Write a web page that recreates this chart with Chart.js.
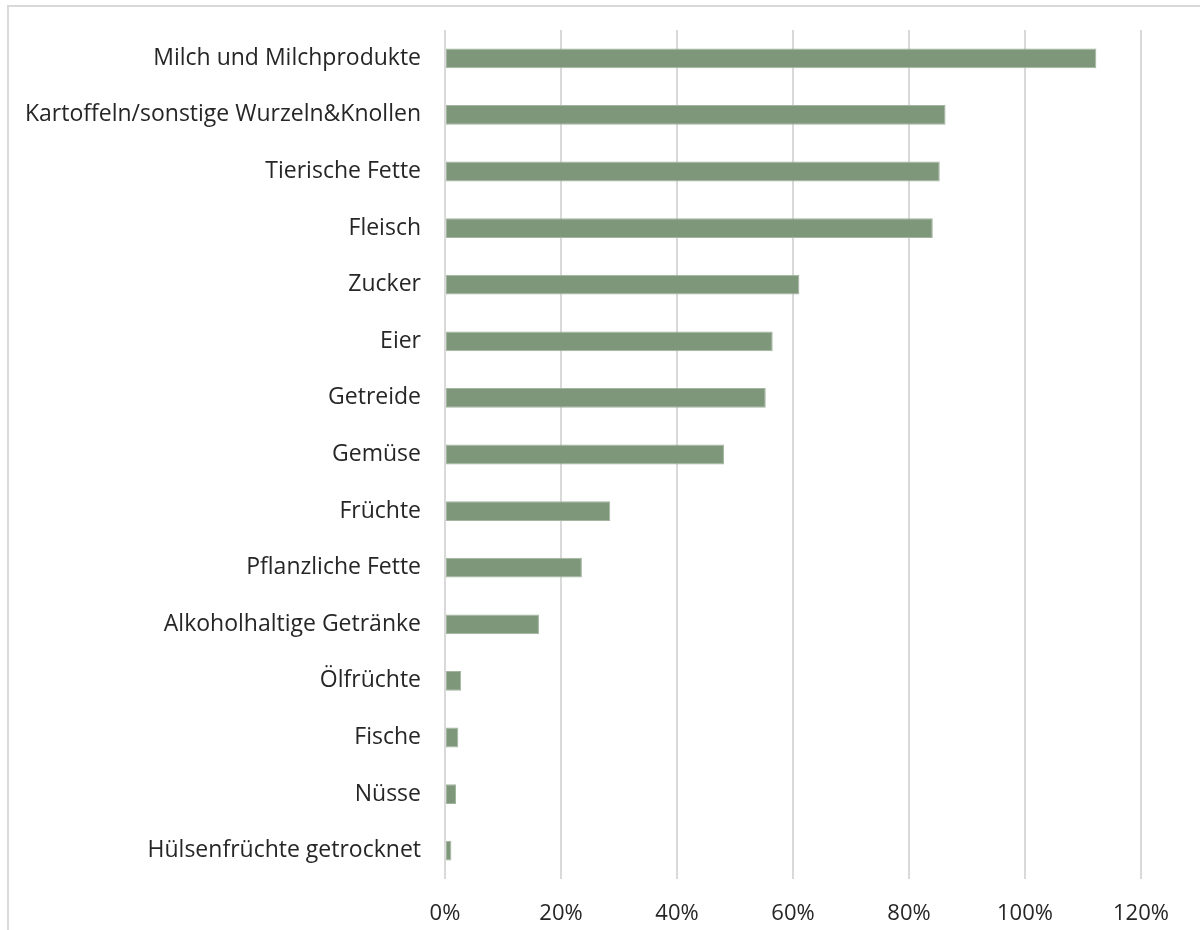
<!DOCTYPE html>
<html>
<head>
<meta charset="utf-8">
<script src="https://cdn.jsdelivr.net/npm/chart.js@4/dist/chart.umd.min.js"></script>
<style>
  html, body { margin: 0; padding: 0; background: #fff; overflow: hidden; }
  #frame {
    position: absolute; left: 7px; top: 5px;
    width: 1300px; height: 1000px;
    border: 2px solid #d9d9d9; box-sizing: border-box;
  }
  #wrap { position: absolute; left: 0; top: 0; width: 1200px; height: 930px; }
</style>
</head>
<body>
<div id="frame"></div>
<div id="wrap"><canvas id="chart"></canvas></div>
<script>
const categories = [
  "Milch und Milchprodukte",
  "Kartoffeln/sonstige Wurzeln&Knollen",
  "Tierische Fette",
  "Fleisch",
  "Zucker",
  "Eier",
  "Getreide",
  "Gemüse",
  "Früchte",
  "Pflanzliche Fette",
  "Alkoholhaltige Getränke",
  "Ölfrüchte",
  "Fische",
  "Nüsse",
  "Hülsenfrüchte getrocknet",
];
const values = [112.3, 86.3, 85.3, 84.1, 61.1, 56.5, 55.3, 48.1, 28.5, 23.6, 16.2, 2.8, 2.3, 1.9, 1.1];
const xTicks = [0, 20, 40, 60, 80, 100, 120];

const ctx = document.getElementById("chart");
new Chart(ctx, {
  type: "bar",
  data: {
    labels: categories,
    datasets: [
      {
        data: values,
        backgroundColor: "#7e977a",
        borderColor: "#a3b59f",
        borderWidth: 1,
        borderSkipped: false,
        barPercentage: 0.35,
        categoryPercentage: 1,
      },
    ],
  },
  options: {
    indexAxis: "y",
    responsive: true,
    maintainAspectRatio: false,
    animation: false,
    layout: {
      padding: { top: 30, right: 59, left: 0, bottom: 0 },
    },
    plugins: {
      legend: { display: false },
      tooltip: { enabled: false },
    },
    scales: {
      x: {
        min: 0,
        max: 120,
        afterBuildTicks: (scale) => {
          scale.ticks = xTicks.map((v) => ({ value: v }));
        },
        afterFit: (scale) => {
          scale.height = 51;
        },
        grid: {
          color: "#d9d9d9",
          lineWidth: 2,
          drawTicks: false,
        },
        border: { display: false },
        ticks: {
          color: "#262626",
          padding: 22,
          font: { family: "Open Sans", size: 22 },
          callback: (v) => v + "%",
        },
      },
      y: {
        afterFit: (scale) => {
          scale.width = 445;
          scale.paddingTop = 0;
          scale.paddingBottom = 0;
        },
        grid: { display: false, drawTicks: false },
        border: { display: false },
        ticks: {
          color: "#262626",
          padding: 24,
          font: { family: "Open Sans", size: 23 },
        },
      },
    },
  },
});
</script>
</body>
</html>
